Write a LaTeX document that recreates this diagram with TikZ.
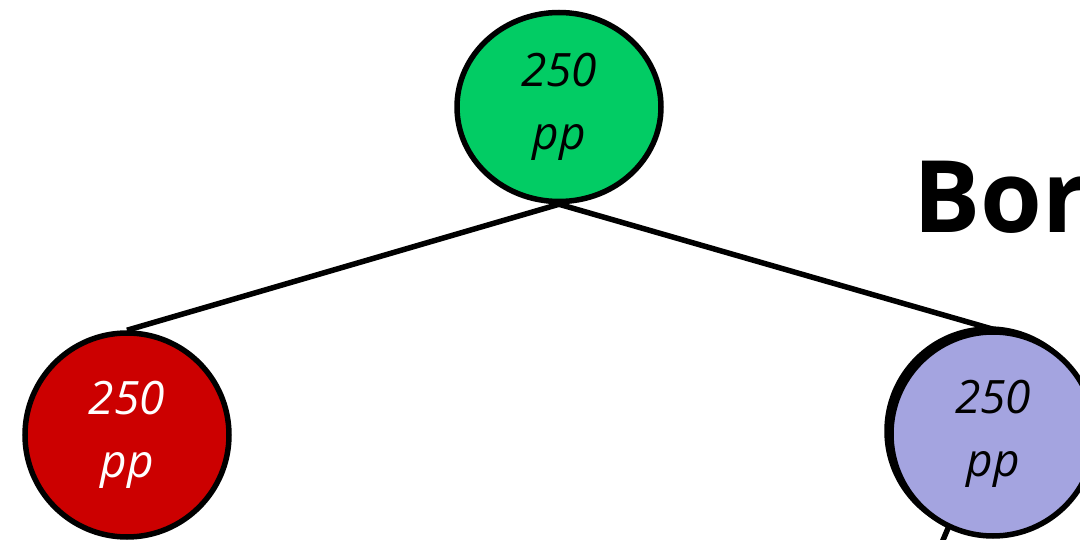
\documentclass[tikz,border=0pt]{standalone}
\usepackage{fontspec}
\setmainfont{Open Sans}
\usetikzlibrary{shapes.geometric}
\definecolor{nodegreen}{RGB}{2,204,100}
\definecolor{nodered}{RGB}{204,0,0}
\definecolor{nodelav}{RGB}{164,164,224}
\tikzset{
  treenode/.style={circle, draw=black, line width=5.5pt, minimum size=204pt, inner sep=0pt, align=center,
    font=\fontsize{46}{63}\selectfont\itshape},
  edgeline/.style={draw=black, line width=5.5pt},
}
\begin{document}
\begin{tikzpicture}[x=1pt,y=-1pt]
\useasboundingbox (0,0) rectangle (1080,540);
\clip (0,0) rectangle (1080,540);
% nodes
\node[treenode, ellipse, minimum width=204pt, minimum height=189pt, fill=nodegreen] (top) at (559,107) {250\\pp};
\node[treenode, fill=nodered, text=white] (left) at (127,435) {250\\pp};
\node[treenode, fill=nodelav] (back) at (989,431) {};
\coordinate (bl) at (911,616);
\draw[edgeline] (back) -- (bl);
\node[treenode, fill=nodelav] (right) at (993,434) {250\\pp};
% edges
\draw[edgeline] (top.south) -- (left.north);
\draw[edgeline] (top.south) -- (right.north);
% title
\node[anchor=base west, inner sep=0pt, font=\fontsize{100}{100}\selectfont\bfseries] (title) at (913,233) {Bor};
\end{tikzpicture}
\end{document}
